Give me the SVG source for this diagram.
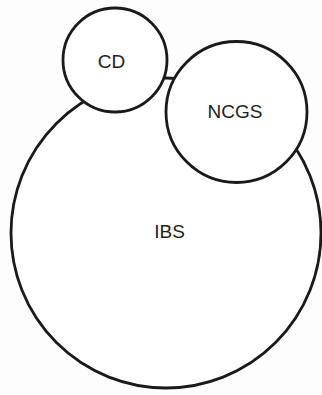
<svg xmlns="http://www.w3.org/2000/svg" width="322" height="395" viewBox="0 0 322 395">
<style>
.c{fill:#fff;stroke:#1a1a1a;stroke-width:2.8}
.t{font-family:"Liberation Sans",Arial,sans-serif;font-size:19px;fill:#222;text-anchor:middle}
</style>
<rect width="322" height="395" fill="#fdfdfd"/>
<g id="IBS"><circle class="c" cx="166" cy="233" r="155"/><text class="t" x="169.5" y="238">IBS</text></g>
<g id="CD"><circle class="c" cx="115" cy="60" r="52"/><text class="t" x="111.5" y="67.5">CD</text></g>
<g id="NCGS"><circle class="c" cx="236.5" cy="112" r="70.5"/><text class="t" x="235" y="117.5">NCGS</text></g>
<g id="connectors"/>
</svg>
